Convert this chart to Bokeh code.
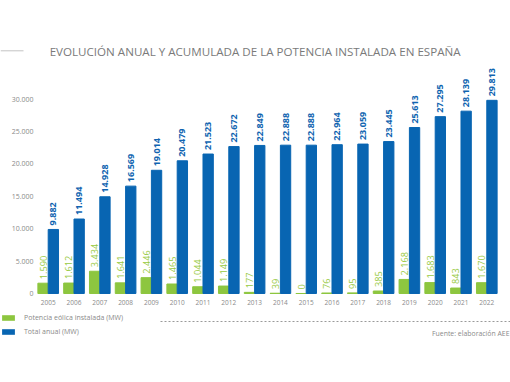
from bokeh.plotting import figure
from bokeh.layouts import column
from bokeh.models import (ColumnDataSource, Range1d, FixedTicker, Legend, LegendItem)
from bokeh.transform import dodge
from bokeh.embed import file_html
from bokeh.resources import INLINE
from bokeh.core.properties import value

years = list(range(2005, 2023))
annual = [1590, 1612, 3434, 1641, 2446, 1465, 1044, 1149, 177, 39, 0, 76, 95, 385, 2168, 1683, 843, 1670]
total = [9882, 11494, 14928, 16569, 19014, 20479, 21523, 22672, 22849, 22888, 22888, 22964, 23059, 23445, 25613, 27295, 28139, 29813]
y_ticks = [0, 5000, 10000, 15000, 20000, 25000, 30000]

title_text = "EVOLUCIÓN ANUAL Y ACUMULADA DE LA POTENCIA INSTALADA EN ESPAÑA"
legend_labels = ["Potencia eólica instalada (MW)", "Total anual (MW)"]
source_text = "Fuente: elaboración AEE"


def fmt(v):
    return f"{v:,}".replace(",", ".")


GREEN = "#8dc63f"
BLUE = "#0865b2"
GREEN_TXT = "#97c93f"
BLUE_TXT = "#1064b0"
GRAY = "#8a8a8a"
FONT = "Open Sans"
W = 510
H = 382


def strip(height):
    f = figure(width=W, height=height, output_backend="svg", toolbar_location=None,
               x_range=Range1d(0, W), y_range=Range1d(0, height),
               x_axis_location=None, y_axis_location=None, frame_align=False,
               min_border=0, min_border_left=0, min_border_right=0,
               min_border_top=0, min_border_bottom=0)
    f.xgrid.grid_line_color = None
    f.ygrid.grid_line_color = None
    f.outline_line_color = None
    return f


# ---- title strip ----
TOP_H = 60
top = strip(TOP_H)
top.text(x=[254.6], y=[TOP_H - 51.3], text=[title_text], text_align="center", text_baseline="middle",
         text_font=value(FONT), text_font_size="11.6px", text_color="#7a7a7a")
top.segment(x0=[0], y0=[TOP_H - 50.3], x1=[23], y1=[TOP_H - 50.3], line_color="#c4c4c4", line_width=1)

# ---- main chart ----
src = ColumnDataSource(dict(
    year=years, annual=annual, total=total,
    annual_lbl=[fmt(v) for v in annual], total_lbl=[fmt(v) for v in total],
))

CH_H = 248
p = figure(width=W, height=CH_H, output_backend="svg", toolbar_location=None,
           x_range=Range1d(2004.469, 2022.919), y_range=Range1d(-463, 35957), frame_align=False,
           min_border_left=34, min_border_right=0, min_border_top=0, min_border_bottom=12)
p.outline_line_color = None
p.xgrid.grid_line_color = None
p.ygrid.grid_line_color = None

bw = 0.4
p.vbar(x=dodge("year", -bw / 2), top="annual", width=bw, source=src, color=GREEN)
p.vbar(x=dodge("year", bw / 2), top="total", width=bw, source=src, color=BLUE)

p.text(x=dodge("year", -bw / 2), y="annual", text="annual_lbl", source=src, angle=1.5708,
       text_align="left", text_baseline="middle", y_offset=-4,
       text_font=value(FONT), text_font_size="9.2px", text_color=GREEN_TXT)
p.text(x=dodge("year", bw / 2), y="total", text="total_lbl", source=src, angle=1.5708,
       text_align="left", text_baseline="middle", y_offset=-4,
       text_font=value(FONT), text_font_size="9px", text_font_style="bold", text_color=BLUE_TXT)

p.xaxis.ticker = FixedTicker(ticks=years)
p.xaxis.axis_line_color = None
p.xaxis.major_tick_line_color = None
p.xaxis.minor_tick_line_color = None
p.xaxis.major_tick_out = 0
p.xaxis.major_label_text_font = FONT
p.xaxis.major_label_text_font_size = "6.5px"
p.xaxis.major_label_text_color = GRAY
p.xaxis.major_label_standoff = 3

p.yaxis.ticker = FixedTicker(ticks=y_ticks)
p.yaxis.major_label_overrides = {t: fmt(t) for t in y_ticks}
p.yaxis.axis_line_color = None
p.yaxis.major_tick_line_color = None
p.yaxis.minor_tick_line_color = None
p.yaxis.major_tick_out = 0
p.yaxis.major_label_text_font = FONT
p.yaxis.major_label_text_font_size = "7px"
p.yaxis.major_label_text_color = GRAY
p.yaxis.major_label_standoff = 1

# ---- legend / source strip ----
BOT_H = H - TOP_H - CH_H   # strip spans page y 308..382


def sy(page_y):
    return H - page_y


bot = strip(BOT_H)
swatch = ColumnDataSource(dict(x=[0], top=[0]))
g1 = bot.vbar(x="x", top="top", bottom=0, width=0, source=swatch, fill_color=GREEN, line_alpha=0)
g2 = bot.vbar(x="x", top="top", bottom=0, width=0, source=swatch, fill_color=BLUE, line_alpha=0)
legend = Legend(items=[LegendItem(label=legend_labels[0], renderers=[g1]),
                       LegendItem(label=legend_labels[1], renderers=[g2])],
                location=(0, sy(336)), orientation="vertical",
                glyph_width=16, glyph_height=7, label_height=7, spacing=5,
                padding=0, margin=0, label_standoff=8,
                border_line_color=None, background_fill_alpha=0,
                label_text_font=FONT, label_text_font_size="7px", label_text_color=GRAY)
bot.add_layout(legend, "center")
bot.segment(x0=[160], y0=[sy(321)], x1=[W], y1=[sy(321)],
            line_color="#9a9a9a", line_width=1, line_dash="2 2")
bot.text(x=[W - 1], y=[sy(333)], text=[source_text], text_align="right", text_baseline="middle",
         text_font=value(FONT), text_font_size="6.9px", text_color=GRAY)

layout = column(top, p, bot, spacing=0)
open("out.html", "w").write(file_html(layout, INLINE))
